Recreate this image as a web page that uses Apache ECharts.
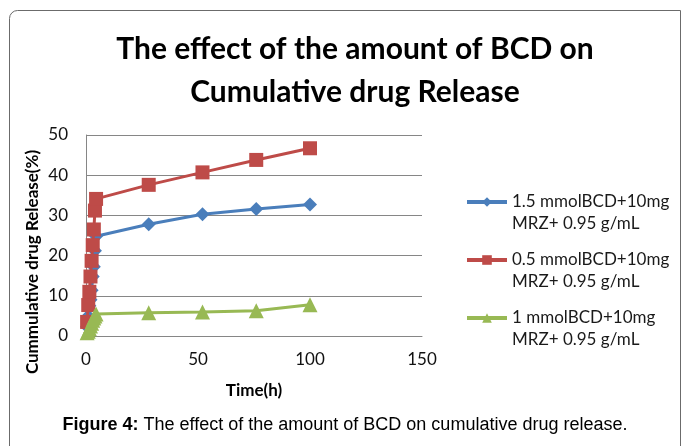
<!DOCTYPE html>
<html>
<head>
<meta charset="utf-8">
<script src="https://cdn.jsdelivr.net/npm/echarts@6/dist/echarts.min.js"></script>
<style>
  html, body { margin: 0; padding: 0; background: #fff; }
  #main { width: 683px; height: 446px; }
</style>
</head>
<body>
<div id="main"></div>
<script>
// time points (h) and cumulative release (%)
const timeHours = [0.5, 1, 1.5, 2, 2.5, 3, 3.5, 4, 4.5, 28, 52, 76, 100];
const blueValues = [2.3, 5.0, 7.5, 9.0, 11.4, 14.8, 17.2, 21.2, 24.8, 27.8, 30.3, 31.6, 32.7];
const redValues = [3.5, 7.7, 11.0, 14.8, 18.7, 22.6, 26.5, 31.2, 34.1, 37.6, 40.7, 43.8, 46.7];
const greenValues = [0.8, 1.2, 1.8, 2.5, 3.2, 3.9, 4.5, 5.0, 5.5, 5.8, 6.0, 6.3, 7.8];

const seriesNames = [
  '1.5 mmolBCD+10mg\nMRZ+ 0.95 g/mL',
  '0.5 mmolBCD+10mg\nMRZ+ 0.95 g/mL',
  '1 mmolBCD+10mg\nMRZ+ 0.95 g/mL'
];
const yTicks = [0, 10, 20, 30, 40, 50];
const xTicks = [0, 50, 100, 150];

function pairs(xs, ys) {
  return xs.map((x, i) => [x, ys[i]]);
}

const FONT = 'Lato, "Open Sans", sans-serif';
const ARIAL = '"Liberation Sans", Arial, sans-serif';

const chart = echarts.init(document.getElementById('main'));

const option = {
  animation: false,
  backgroundColor: '#fff',
  title: {
    text: 'The effect of the amount of BCD on\nCumulative drug Release',
    left: 350,
    top: 23,
    textAlign: 'center',
    textStyle: {
      fontFamily: FONT,
      fontWeight: 'bold',
      fontSize: 30,
      lineHeight: 43,
      color: '#000'
    }
  },
  legend: {
    orient: 'vertical',
    left: 460,
    top: 164,
    itemWidth: 40,
    itemHeight: 12,
    itemGap: -8,
    data: seriesNames,
    // blank first line keeps the marker level with the first text line
    formatter: (name) => '\n' + name,
    lineStyle: { width: 4 },
    textStyle: {
      fontFamily: FONT,
      fontSize: 17,
      lineHeight: 22,
      color: '#1a1a1a'
    }
  },
  grid: {
    left: 86,
    right: 261,
    top: 135,
    bottom: 110
  },
  xAxis: {
    type: 'value',
    min: xTicks[0],
    max: xTicks[xTicks.length - 1],
    interval: 50,
    name: 'Time(h)',
    nameLocation: 'middle',
    nameGap: 46,
    nameTextStyle: {
      fontFamily: FONT,
      fontWeight: 'bold',
      fontSize: 17,
      color: '#000'
    },
    axisLine: { show: true, lineStyle: { color: '#868686', width: 1 } },
    axisTick: { show: false },
    axisLabel: {
      margin: 15,
      fontFamily: FONT,
      fontSize: 17,
      color: '#111'
    },
    splitLine: { show: false }
  },
  yAxis: {
    type: 'value',
    min: yTicks[0],
    max: yTicks[yTicks.length - 1],
    interval: 10,
    axisLine: { show: true, lineStyle: { color: '#868686', width: 1 } },
    axisTick: { show: false },
    axisLabel: {
      margin: 18,
      fontFamily: FONT,
      fontSize: 17,
      color: '#111'
    },
    splitLine: { show: true, lineStyle: { color: '#868686', width: 1 } }
  },
  graphic: [
    {
      // outer frame, only top/left edges visible in the crop
      type: 'rect',
      shape: { x: 9.5, y: 10.5, width: 671, height: 460, r: [8, 0, 0, 0] },
      style: { fill: 'none', stroke: '#6b6b6b', lineWidth: 1 },
      silent: true
    },
    {
      type: 'text',
      x: 33,
      y: 262,
      rotation: Math.PI / 2,
      style: {
        text: 'Cummulative drug Release(%)',
        fontFamily: FONT,
        fontWeight: 'bold',
        fontSize: 17,
        fill: '#000',
        textAlign: 'center',
        textVerticalAlign: 'middle'
      }
    },
    {
      type: 'text',
      x: 345,
      y: 425,
      style: {
        rich: {
          b: { fontFamily: ARIAL, fontWeight: 'bold', fontSize: 18, fill: '#000' },
          n: { fontFamily: ARIAL, fontSize: 18, fill: '#000' }
        },
        text: '{b|Figure 4:}{n| The effect of the amount of BCD on cumulative drug release.}',
        textAlign: 'center',
        textVerticalAlign: 'middle'
      }
    }
  ],
  series: [
    {
      name: seriesNames[0],
      type: 'line',
      data: pairs(timeHours, blueValues),
      symbol: 'diamond',
      symbolSize: 14,
      z: 2,
      lineStyle: { color: '#4a7ebb', width: 3 },
      itemStyle: { color: '#4a7ebb' }
    },
    {
      name: seriesNames[1],
      type: 'line',
      data: pairs(timeHours, redValues),
      symbol: 'rect',
      symbolSize: 14,
      z: 3,
      lineStyle: { color: '#be4b48', width: 3 },
      itemStyle: { color: '#be4b48' }
    },
    {
      name: seriesNames[2],
      type: 'line',
      data: pairs(timeHours, greenValues),
      symbol: 'triangle',
      symbolSize: 15,
      z: 4,
      lineStyle: { color: '#98b954', width: 3 },
      itemStyle: { color: '#98b954' }
    }
  ]
};

chart.setOption(option);
</script>
</body>
</html>
